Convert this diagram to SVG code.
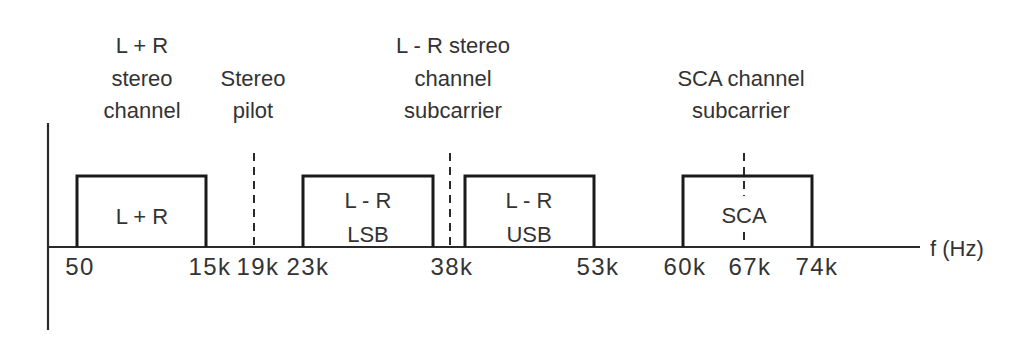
<svg xmlns="http://www.w3.org/2000/svg" width="1017" height="340" viewBox="0 0 1017 340">
<style>
.t{font-family:"Liberation Sans","DejaVu Sans",sans-serif;font-size:22px;fill:#333;text-anchor:middle}
.tk{font-family:"Liberation Sans","DejaVu Sans",sans-serif;font-size:24px;fill:#333;text-anchor:middle;letter-spacing:1.5px}
.box{fill:none;stroke:#1a1a1a;stroke-width:3}
.axis{stroke:#2a2a2a;stroke-width:2.2;fill:none}
.dash{stroke:#2a2a2a;stroke-width:2;stroke-dasharray:8 6;fill:none}
</style>
<rect width="1017" height="340" fill="#fff"/>
<g id="axes">
<line class="axis" x1="48" y1="123" x2="48" y2="330"/>
<line class="axis" x1="47" y1="247" x2="920" y2="247"/>
<text class="t" x="930" y="256" style="text-anchor:start">f (Hz)</text>
</g>
<g id="connectors">
<line class="dash" x1="254" y1="153" x2="254" y2="247"/>
<line class="dash" x1="450" y1="153" x2="450" y2="247"/>
<line class="dash" x1="744" y1="153" x2="744" y2="196"/>
<line class="dash" x1="744" y1="232" x2="744" y2="247"/>
</g>
<g id="node-lplusr">
<polyline class="box" points="77,247 77,176 206,176 206,247"/>
<text class="t" x="142" y="224">L + R</text>
</g>
<g id="node-lsb">
<polyline class="box" points="303,247 303,176 433,176 433,247"/>
<text class="t" x="368" y="208">L - R</text>
<text class="t" x="368" y="242">LSB</text>
</g>
<g id="node-usb">
<polyline class="box" points="465,247 465,176 594,176 594,247"/>
<text class="t" x="529" y="208">L - R</text>
<text class="t" x="529" y="242">USB</text>
</g>
<g id="node-sca">
<polyline class="box" points="683,247 683,176 812,176 812,247"/>
<text class="t" x="744" y="223">SCA</text>
</g>
<g id="labels-top">
<text class="t" x="142" y="53">L + R</text>
<text class="t" x="142" y="86">stereo</text>
<text class="t" x="142" y="118">channel</text>
<text class="t" x="253" y="86">Stereo</text>
<text class="t" x="253" y="118">pilot</text>
<text class="t" x="453" y="53">L - R stereo</text>
<text class="t" x="453" y="86">channel</text>
<text class="t" x="453" y="118">subcarrier</text>
<text class="t" x="741" y="86">SCA channel</text>
<text class="t" x="741" y="118">subcarrier</text>
</g>
<g id="ticks">
<text class="tk" x="80" y="275">50</text>
<text class="tk" x="210" y="275">15k</text>
<text class="tk" x="258" y="275">19k</text>
<text class="tk" x="308" y="275">23k</text>
<text class="tk" x="452" y="275">38k</text>
<text class="tk" x="598" y="275">53k</text>
<text class="tk" x="685" y="275">60k</text>
<text class="tk" x="750" y="275">67k</text>
<text class="tk" x="817" y="275">74k</text>
</g>
</svg>
